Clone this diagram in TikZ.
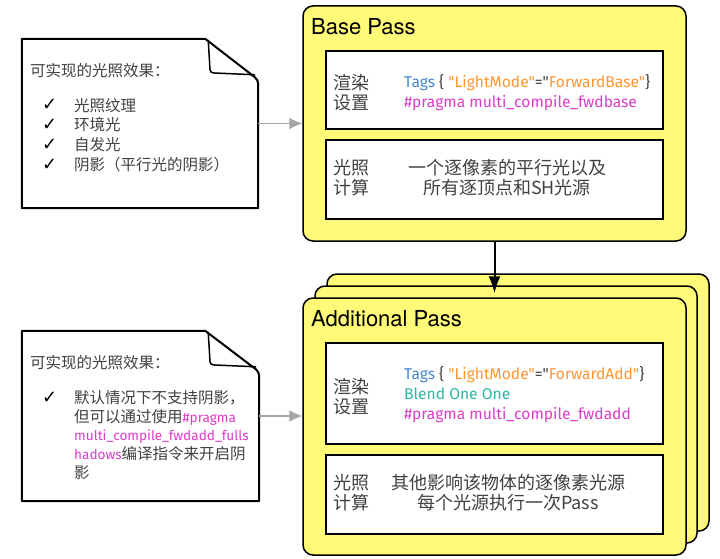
\documentclass[tikz,border=0pt]{standalone}
\usepackage{fontspec}
\setmainfont{Noto Sans CJK SC}
\newfontfamily\titlefont{TeX Gyre Heros}
\newfontfamily\codefont{Fira Sans}
\newfontfamily\symfont{DejaVu Sans}
\usetikzlibrary{calc,arrows.meta}
\definecolor{passyellow}{RGB}{255,250,120}
\definecolor{tagblue}{RGB}{70,135,205}
\definecolor{strorange}{RGB}{255,150,50}
\definecolor{blendteal}{RGB}{45,180,165}
\definecolor{pragmapink}{RGB}{220,60,200}
\definecolor{notegray}{RGB}{65,65,65}
\definecolor{arrowgray}{RGB}{165,165,165}
\newcommand{\tagsline}[1]{\textcolor{tagblue}{Tags} \{ \textcolor{strorange}{"LightMode"}="\textcolor{strorange}{#1"}\}}
\newcommand{\notecode}[1]{\textcolor{pragmapink}{\codefont\fontsize{13.6}{18.6}\selectfont #1}}
\tikzset{
  card/.style={draw, line width=1.5pt, fill=passyellow, rounded corners=10pt, inner sep=0pt},
  panel/.style={draw, line width=1.5pt, fill=white, inner sep=0pt, minimum width=337pt},
  notebox/.style={draw, line width=2pt, fill=white, line join=round},
  notetext/.style={text=notegray, inner sep=0pt, align=left, font=\fontsize{15.5}{19.8}\selectfont},
  checktext/.style={text=black, inner sep=0pt, align=left, font=\symfont\bfseries\fontsize{18}{19.8}\selectfont},
  paneltext/.style={text=notegray, inner sep=0pt, font=\fontsize{18}{20}\selectfont},
  codetext/.style={text=notegray, inner sep=0pt, align=left, font=\codefont\fontsize{15.6}{20}\selectfont},
  passtitle/.style={inner sep=0pt, anchor=west, font=\titlefont\fontsize{22}{26}\selectfont},
  feed/.style={-{Latex[length=13pt,width=12pt]}, arrowgray, line width=1.8pt}
}
\begin{document}
\begin{tikzpicture}[x=1pt, y=-1pt]
        \useasboundingbox (0,0) rectangle (720,559);
        \coordinate (b) at (494.5,123.5);
        \coordinate (ab) at (518,402.5);
        \coordinate (am) at (506,414.5);
        \coordinate (af) at (494.5,426.5);
        \coordinate (n1) at (140,123.5);
        \coordinate (n2) at (140.5,416);
        \draw (b) node [card, name=base, minimum width=383pt, minimum height=235pt] {};
        \draw (ab) node [card, name=addback, minimum width=382pt, minimum height=257pt] {};
        \draw (am) node [card, name=addmid, minimum width=382pt, minimum height=257pt] {};
        \draw (af) node [card, name=add, minimum width=383pt, minimum height=257pt] {};
        \node [passtitle, name=basetitle] at (311,27) {Base Pass};
        \node [passtitle, name=addtitle] at (311,319) {Additional Pass};
        \node [panel, name=baseset, minimum height=78pt] at (494.5,90) {};
        \node [panel, name=baselit, minimum height=79pt] at (494.5,179.5) {};
        \node [panel, name=addset, minimum height=101pt] at (494.5,393.5) {};
        \node [panel, name=addlit, minimum height=79pt] at (494.5,494.5) {};
        \node [paneltext, align=left, anchor=west, name=basesetlabel] at (333,93) {渲染\\设置};
        \node [paneltext, align=left, anchor=west, name=baselitlabel] at (333,178) {光照\\计算};
        \node [paneltext, align=left, anchor=west, name=addsetlabel] at (333,396.5) {渲染\\设置};
        \node [paneltext, align=left, anchor=west, name=addlitlabel] at (333,492.5) {光照\\计算};
        \node [codetext, anchor=west, name=basecode] at (404,93) {\tagsline{ForwardBase}\\\textcolor{pragmapink}{\#pragma multi\_compile\_fwdbase}};
        \node [codetext, anchor=west, name=addcode] at (404,395) {\tagsline{ForwardAdd}\\\textcolor{blendteal}{Blend One One}\\\textcolor{pragmapink}{\#pragma multi\_compile\_fwdadd}};
        \node [paneltext, align=center, name=baselittext] at (507,178) {一个逐像素的平行光以及\\所有逐顶点和SH光源};
        \node [paneltext, align=center, name=addlittext] at (508,492.5) {其他影响该物体的逐像素光源\\每个光源执行一次Pass};
        \draw (n1) node [minimum width=236pt, minimum height=169pt, inner sep=0pt, name=note1] {};
        \draw (n2) node [minimum width=237pt, minimum height=170pt, inner sep=0pt, name=note2] {};
        \draw [notebox] (note1.south west) -- (note1.north west) -- ($ (note1.north east) + (-53,0) $) [rounded corners=4pt] -- ($ (note1.north east) + (0,41) $) [sharp corners] -- (note1.south east) -- cycle;
        \draw [line width=1.5pt, rounded corners=3pt] ($ (note1.north east) + (-50,1) $) -- ($ (note1.north east) + (-48,34) $) -- ($ (note1.north east) + (-3,36) $);
        \draw [notebox] (note2.south west) -- (note2.north west) -- ($ (note2.north east) + (-54,0) $) [rounded corners=4pt] -- ($ (note2.north east) + (0,41) $) [sharp corners] -- (note2.south east) -- cycle;
        \draw [line width=1.5pt, rounded corners=3pt] ($ (note2.north east) + (-51,1) $) -- ($ (note2.north east) + (-49,34) $) -- ($ (note2.north east) + (-3,36) $);
        \node [notetext, anchor=west, name=note1head] at (30,71) {可实现的光照效果：};
        \node [checktext, anchor=west, name=note1checks] at (42,135) {✓\\✓\\✓\\✓};
        \node [notetext, anchor=west, name=note1items] at (74,135) {光照纹理\\环境光\\自发光\\阴影（平行光的阴影）};
        \node [notetext, anchor=west, name=note2head] at (30,363) {可实现的光照效果：};
        \node [checktext, anchor=west, name=note2check] at (42,398) {✓};
        \node [notetext, anchor=west, name=note2items, font=\fontsize{15.5}{18.6}\selectfont] at (74,435) {默认情况下不支持阴影，\\但可以通过使用\notecode{\#pragma}\\\notecode{multi\_compile\_fwdadd\_fulls}\\\notecode{hadows}编译指令来开启阴\\影};
        \draw [feed] (note1.east) -- (base.west);
        \draw [feed] (note2.east) -- (note2.east -| add.west);
        \draw [-{Latex[length=17pt,width=12pt]}, line width=2pt, shorten >=4pt] (base.south) -- (add.north);
    \end{tikzpicture}
\end{document}
